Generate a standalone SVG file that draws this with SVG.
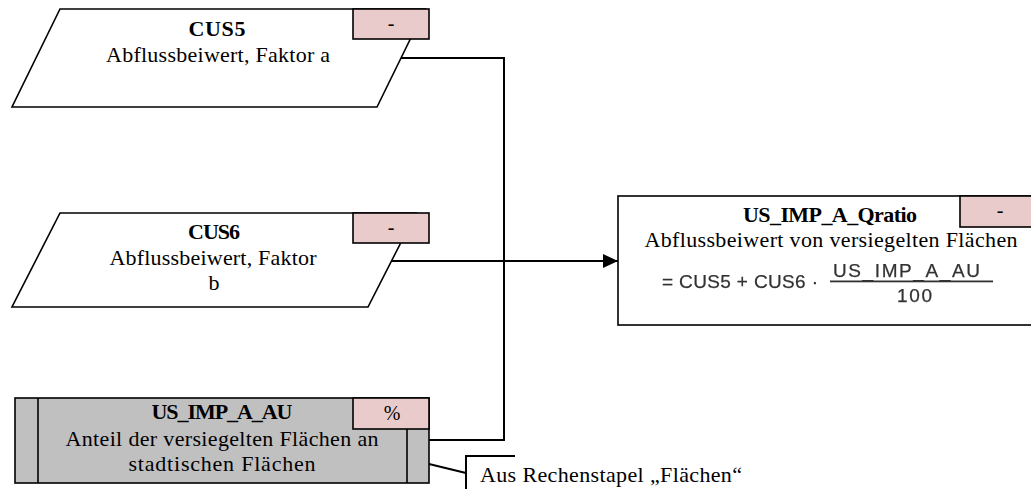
<svg xmlns="http://www.w3.org/2000/svg" width="1031" height="489" viewBox="0 0 1031 489">
  <style>
    .shape { fill: #ffffff; stroke: #000000; stroke-width: 1.6; }
    .stack { fill: #c0c0c0; stroke: #000000; stroke-width: 1.6; }
    .unit { fill: #eacbcb; stroke: #000000; stroke-width: 1.6; }
    .title { font-family: "Liberation Serif", "Times New Roman", serif; font-size: 22px; font-weight: bold; fill: #000; text-anchor: middle; }
    .label { font-family: "Liberation Serif", "Times New Roman", serif; font-size: 22px; fill: #000; text-anchor: middle; }
    .unittext { font-family: "Liberation Serif", "Times New Roman", serif; font-size: 20px; fill: #000; text-anchor: middle; }
    .note { font-family: "Liberation Serif", "Times New Roman", serif; font-size: 22px; fill: #000; }
    .formula { font-family: "Liberation Sans", Arial, sans-serif; font-size: 19px; fill: #333333; stroke: #333333; stroke-width: 0.25; }
    .wire { fill: none; stroke: #000000; stroke-width: 2; }
  </style>
  <defs>
    <marker id="arrow" viewBox="0 0 15 14" refX="15" refY="7" markerWidth="15" markerHeight="14" markerUnits="userSpaceOnUse" orient="auto">
      <path d="M0,0 L15,7 L0,14 Z" fill="#000000"/>
    </marker>
    <filter id="soft" filterUnits="userSpaceOnUse" x="640" y="255" width="370" height="55">
      <feGaussianBlur stdDeviation="0.45"/>
    </filter>
  </defs>

  <!-- connectors -->
  <g id="connectors">
    <path class="wire" d="M400,58 H504 V440 H429"/>
    <path class="wire" d="M392,261 H618" marker-end="url(#arrow)"/>
    <path class="wire" d="M429,464 L466,473"/>
    <path class="wire" d="M515,456 H466 V489"/>
  </g>

  <!-- input CUS5 -->
  <g id="node-cus5">
    <polygon class="shape" points="60,9 425,9 377,107 12,107"/>
    <rect class="unit" x="353" y="9" width="76" height="30"/>
    <text class="unittext" x="391" y="30">-</text>
    <text class="title" x="217" y="36" textLength="57" lengthAdjust="spacing">CUS5</text>
    <text class="label" x="218" y="62" textLength="224" lengthAdjust="spacing">Abflussbeiwert, Faktor a</text>
  </g>

  <!-- input CUS6 -->
  <g id="node-cus6">
    <polygon class="shape" points="60,213 416,213 368,307 12,307"/>
    <rect class="unit" x="353" y="213" width="76" height="30"/>
    <text class="unittext" x="391" y="234">-</text>
    <text class="title" x="214" y="239" textLength="52" lengthAdjust="spacing">CUS6</text>
    <text class="label" x="213" y="265" textLength="207" lengthAdjust="spacing">Abflussbeiwert, Faktor</text>
    <text class="label" x="214" y="290">b</text>
  </g>

  <!-- external stack value US_IMP_A_AU -->
  <g id="node-us-imp-a-au">
    <rect class="stack" x="15" y="398" width="414" height="85"/>
    <line class="stack" x1="38" y1="398" x2="38" y2="483"/>
    <line class="stack" x1="407" y1="429" x2="407" y2="483"/>
    <rect class="unit" x="353" y="398" width="76" height="31"/>
    <text class="unittext" x="392" y="420">%</text>
    <text class="title" x="222" y="419" textLength="141" lengthAdjust="spacing">US_IMP_A_AU</text>
    <text class="label" x="222" y="446" textLength="313" lengthAdjust="spacing">Anteil der versiegelten Flächen an</text>
    <text class="label" x="222" y="471" textLength="187" lengthAdjust="spacing">stadtischen Flächen</text>
  </g>

  <!-- source note -->
  <g id="note-source">
    <text class="note" x="480" y="482" textLength="262" lengthAdjust="spacing">Aus Rechenstapel „Flächen“</text>
  </g>

  <!-- result US_IMP_A_Qratio -->
  <g id="node-us-imp-a-qratio">
    <rect class="shape" x="618" y="196" width="420" height="129"/>
    <rect class="unit" x="960" y="196" width="78" height="31"/>
    <text class="unittext" x="1000" y="217">-</text>
    <text class="title" x="830" y="222" textLength="174" lengthAdjust="spacing">US_IMP_A_Qratio</text>
    <text class="label" x="831" y="247" textLength="373" lengthAdjust="spacing">Abflussbeiwert von versiegelten Flächen</text>
    <g id="formula" filter="url(#soft)">
      <text class="formula" x="662" y="288" textLength="156" lengthAdjust="spacing">= CUS5 + CUS6 ·</text>
      <text class="formula" x="833" y="277" textLength="147" lengthAdjust="spacing">US_IMP_A_AU</text>
      <rect x="830" y="280.5" width="163" height="1.8" fill="#333333"/>
      <text class="formula" x="897" y="302" textLength="35" lengthAdjust="spacing">100</text>
    </g>
  </g>
</svg>
